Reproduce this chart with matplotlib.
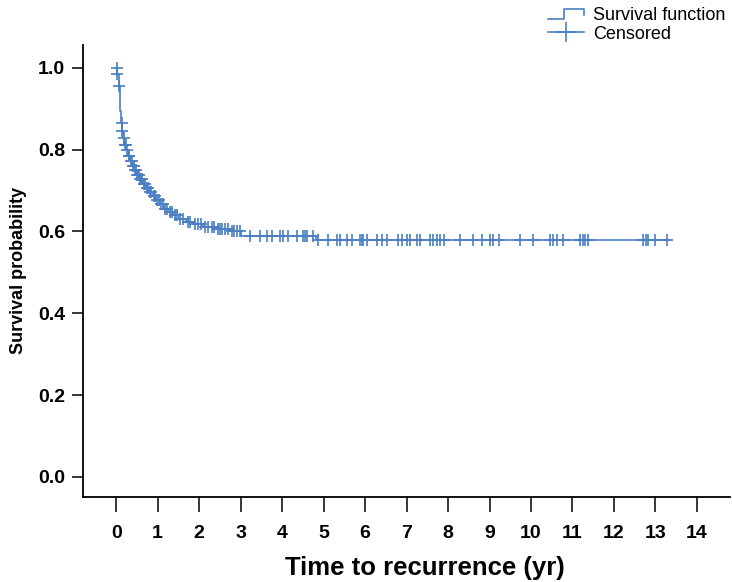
import numpy as np
import matplotlib.pyplot as plt
from matplotlib.lines import Line2D
from matplotlib.legend_handler import HandlerBase


plt.rcParams['font.family'] = ['Liberation Sans', 'DejaVu Sans']

BLUE = '#4a7fc4'

# Kaplan-Meier steps
event_times = [0, 0.03, 0.06, 0.08, 0.10, 0.12, 0.14, 0.17, 0.20, 0.24, 0.28, 0.33,
               0.38, 0.44, 0.50, 0.57, 0.64, 0.72, 0.80, 0.88, 0.96, 1.05, 1.15,
               1.26, 1.38, 1.52, 1.68, 1.86, 2.10, 2.40, 2.75, 3.02, 4.82]
survival = [1.0, 0.985, 0.955, 0.925, 0.895, 0.865, 0.845, 0.828, 0.812, 0.798,
            0.785, 0.772, 0.760, 0.749, 0.738, 0.727, 0.716, 0.706, 0.696, 0.686,
            0.676, 0.666, 0.656, 0.647, 0.639, 0.631, 0.624, 0.617, 0.611, 0.605,
            0.600, 0.590, 0.579]
last_time = 13.35

censor_times = [0.02, 0.03, 0.07, 0.13, 0.15, 0.18, 0.21, 0.23, 0.27, 0.30, 0.32,
                0.35, 0.37, 0.40, 0.42, 0.45, 0.47, 0.50, 0.52, 0.55, 0.58, 0.60,
                0.62, 0.66, 0.68, 0.70, 0.74, 0.77, 0.82, 0.85, 0.90, 0.93, 0.98,
                1.02, 1.08, 1.12, 1.18, 1.22, 1.30, 1.34, 1.42, 1.46, 1.55, 1.60,
                1.72, 1.78, 1.90, 1.98, 2.05, 2.15, 2.22, 2.30, 2.36, 2.45, 2.50,
                2.55, 2.62, 2.70, 2.80, 2.85, 2.92, 2.98,
                3.23, 3.47, 3.64, 3.76, 3.95, 4.02, 4.14, 4.36, 4.51, 4.55, 4.60, 4.75,
                4.87, 5.11, 5.33, 5.40, 5.57, 5.69, 5.88, 5.93, 5.95, 6.05, 6.29,
                6.41, 6.53, 6.80, 6.89, 7.01, 7.08, 7.25, 7.33, 7.57, 7.64, 7.73,
                7.81, 7.90, 8.29, 8.60, 8.81, 9.01, 9.08, 9.24, 9.73, 10.05, 10.46,
                10.53, 10.63, 10.76, 11.18, 11.25, 11.30, 11.38, 12.71, 12.77,
                12.83, 13.0, 13.27]


def survAt(t):
    idx = np.searchsorted(event_times, t, side='right') - 1
    return np.array(survival)[idx]


class StepHandler(HandlerBase):
    def create_artists(self, legend, orig, xdescent, ydescent, width, height, fontsize, trans):
        x0, y0 = -xdescent, -ydescent
        xs = [x0, x0 + width * 0.45, x0 + width * 0.45, x0 + width, x0 + width]
        ys = [y0 + height * 0.05, y0 + height * 0.05, y0 + height * 0.85,
              y0 + height * 0.85, y0 + height * 0.4]
        ln = Line2D(xs, ys, color=BLUE, lw=1.2, transform=trans)
        return [ln]


fig = plt.figure(figsize=(7.32, 5.82), dpi=100)
ax = fig.add_axes([0.1134, 0.146, 0.884, 0.777])

ax.step(event_times + [last_time], survival + [survival[-1]], where='post', color=BLUE, lw=1.2)
ax.plot(censor_times, survAt(censor_times), '+', color=BLUE, ms=8, mew=1.2)

ax.set_xlim(-0.8, 14.8)
ax.set_ylim(-0.049, 1.056)
ax.set_xticks(range(0, 15))
ax.set_yticks(np.arange(0, 1.01, 0.2))
ax.set_yticklabels([f'{v:.1f}' for v in np.arange(0, 1.01, 0.2)])
for s in ['top', 'right']:
    ax.spines[s].set_visible(False)
for s in ['left', 'bottom']:
    ax.spines[s].set_linewidth(1.3)
ax.tick_params(axis='both', labelsize=14, width=1.1)
ax.tick_params(axis='x', length=11, pad=9)
ax.tick_params(axis='y', length=8, pad=5)
for lab in ax.get_xticklabels() + ax.get_yticklabels():
    lab.set_fontweight('bold')

ax.set_xlabel('Time to recurrence (yr)', fontsize=18.5, fontweight='bold')
ax.xaxis.set_label_coords(0.529, -0.13)
ax.set_ylabel('Survival probability', fontsize=13, fontweight='bold', labelpad=8)

step_h = Line2D([], [], color=BLUE)
cens_h = Line2D([], [], color=BLUE, marker='+', ms=14, mew=1.2, lw=1.2)
fig.legend([step_h, cens_h], ['Survival function', 'Censored'],
           handler_map={step_h: StepHandler()},
           loc='upper right', bbox_to_anchor=(1.013, 1.016), frameon=False,
           fontsize=13, handlelength=2.0, handletextpad=0.5, labelspacing=0.1)

fig.savefig('out.png', dpi=100)
